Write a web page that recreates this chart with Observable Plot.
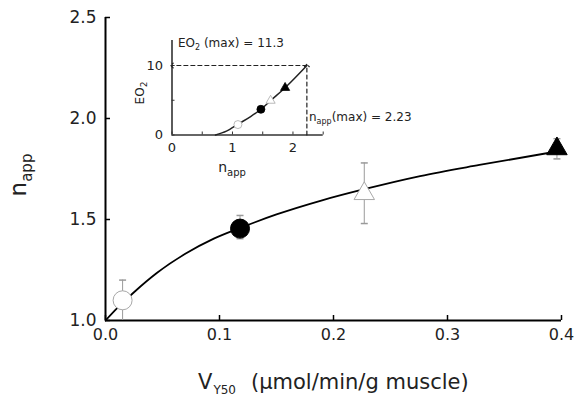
<!DOCTYPE html>
<html>
<head>
<meta charset="utf-8">
<script src="https://cdn.jsdelivr.net/npm/d3@7"></script>
<script src="https://cdn.jsdelivr.net/npm/@observablehq/plot@0.6"></script>
<style>
  body { margin: 0; background: #fff; }
  #wrap { position: relative; width: 574px; height: 402px; font-family: "DejaVu Sans", sans-serif; }
  #wrap svg { position: absolute; left: 0; top: 0; overflow: visible; }
</style>
</head>
<body>
<div id="wrap"></div>
<script>
// ---------- main chart data ----------
const vY50   = [0.015, 0.118, 0.227, 0.396];
const nApp   = [1.10, 1.455, 1.628, 1.850];
const nLo    = [1.00, 1.405, 1.480, 1.800];
const nHi    = [1.20, 1.520, 1.780, 1.900];
const symbols = ["circle", "circle", "triangle", "triangle"];
const filled  = [false, true, false, true];

// fitted curve
const fitV = [0, 0.01, 0.025, 0.045, 0.07, 0.095, 0.118, 0.15, 0.19, 0.227, 0.276, 0.328, 0.387, 0.40];
const fitN = [1.0, 1.06, 1.14, 1.235, 1.33, 1.405, 1.458, 1.525, 1.595, 1.65, 1.715, 1.77, 1.828, 1.84];

const xTicks = [0, 0.1, 0.2, 0.3, 0.4];
const xTickLabels = ["0.0", "0.1", "0.2", "0.3", "0.4"];
const yTicks = [1.0, 1.5, 2.0, 2.5];
const yTickLabels = ["1.0", "1.5", "2.0", "2.5"];

// ---------- inset data ----------
const insetN   = [1.09, 1.47, 1.63, 1.87];
const insetEO2 = [1.5, 3.7, 4.95, 6.8];
const insetFitN   = [0.72, 0.9, 1.1, 1.3, 1.47, 1.63, 1.87, 2.23];
const insetFitEO2 = [0.0, 0.55, 1.6, 2.65, 3.7, 4.95, 6.8, 10.0];
const nAppMax = 2.23;       // arrow position along n_app
const eo2Arrow = 10.0;      // arrow height as drawn
const insetXTicks = [0, 0.5, 1, 1.5, 2, 2.5];
const insetXTickLabels = [0, 1, 2];
const insetYTicks = [0, 5, 10];
const insetYTickLabels = [0, 10];

const pts = vY50.map((v, i) => ({x: v, y: nApp[i], lo: nLo[i], hi: nHi[i], sym: symbols[i], filled: filled[i]}));
const fit = fitV.map((v, i) => ({x: v, y: fitN[i]}));
const ipts = insetN.map((v, i) => ({x: v, y: insetEO2[i], sym: symbols[i], filled: filled[i]}));
const ifit = insetFitN.map((v, i) => ({x: v, y: insetFitEO2[i]}));

const capSymbol = { draw(ctx, size) { const w = Math.sqrt(size / Math.PI); ctx.moveTo(-w, 0); ctx.lineTo(w, 0); } };

const grey = "#9a9a9a";
const markerMarks = (data, rc, rt, sw) => [
  Plot.dot(data.filter(d => d.sym === "circle" && !d.filled), {x: "x", y: "y", r: rc, symbol: "circle", fill: "white", stroke: "#a8a8a8", strokeWidth: sw}),
  Plot.dot(data.filter(d => d.sym === "circle" && d.filled), {x: "x", y: "y", r: rc, symbol: "circle", fill: "black", stroke: "black", strokeWidth: sw}),
  Plot.dot(data.filter(d => d.sym === "triangle" && !d.filled), {x: "x", y: "y", r: rt, symbol: "triangle", fill: "white", stroke: "#a8a8a8", strokeWidth: sw}),
  Plot.dot(data.filter(d => d.sym === "triangle" && d.filled), {x: "x", y: "y", r: rt, symbol: "triangle", fill: "black", stroke: "black", strokeWidth: sw})
];

const main = Plot.plot({
  width: 574, height: 402,
  marginLeft: 105, marginRight: 13, marginTop: 17, marginBottom: 82,
  x: {domain: [0, 0.4], label: null},
  y: {domain: [1, 2.5], label: null},
  style: {fontFamily: "DejaVu Sans, sans-serif", fontSize: "16px", background: "transparent", color: "#222"},
  marks: [
    Plot.axisX(xTicks, {tickSize: 5, dy: -5, fill: "none", stroke: "black", strokeWidth: 1.5, label: null}),
    Plot.axisX(xTicks, {tickSize: 0, tickPadding: 8, tickFormat: d => xTickLabels[xTicks.indexOf(d)], label: null}),
    Plot.axisY(yTicks, {tickSize: 5, dx: 5, fill: "none", stroke: "black", strokeWidth: 1.5, label: null}),
    Plot.axisY(yTicks, {tickSize: 0, tickPadding: 9, fontSize: 17, tickFormat: d => yTickLabels[yTicks.indexOf(d)], label: null}),
    Plot.ruleX([0], {stroke: "black", strokeWidth: 2}),
    Plot.ruleY([1], {stroke: "black", strokeWidth: 2}),
    Plot.ruleX(pts, {x: "x", y1: "lo", y2: "hi", stroke: grey, strokeWidth: 1}),
    Plot.dot(pts, {x: "x", y: "hi", r: 3.5, symbol: capSymbol, stroke: grey, fill: "none"}),
    Plot.dot(pts.filter(d => d.lo > 1), {x: "x", y: "lo", r: 3.5, symbol: capSymbol, stroke: grey, fill: "none"}),
    Plot.line(fit, {x: "x", y: "y", curve: "monotone-x", stroke: "black", strokeWidth: 1.8}),
    ...markerMarks(pts, 9.5, 7.6, 1)
  ]
});

const inset = Plot.plot({
  width: 300, height: 160,
  marginLeft: 51.5, marginRight: 97.3, marginTop: 10, marginBottom: 55.5,
  x: {domain: [0, 2.5], label: null},
  y: {domain: [0, 13.6], label: null},
  style: {fontFamily: "DejaVu Sans, sans-serif", fontSize: "13px", background: "transparent", color: "#222"},
  marks: [
    Plot.axisX(insetXTicks, {tickSize: 3, dy: -3, fill: "none", stroke: "#333", label: null}),
    Plot.axisX(insetXTickLabels, {tickSize: 0, tickPadding: 8, label: null}),
    Plot.axisY(insetYTicks, {tickSize: 3, dx: 3, fill: "none", stroke: "#333", label: null}),
    Plot.axisY(insetYTickLabels, {tickSize: 0, tickPadding: 9, label: null}),
    Plot.ruleX([0], {stroke: "#333", strokeWidth: 1.6}),
    Plot.ruleY([0], {stroke: "#333", strokeWidth: 1.6}),
    Plot.line(ifit, {x: "x", y: "y", curve: "monotone-x", stroke: "#222", strokeWidth: 1.5}),
    Plot.line([{x: nAppMax, y: eo2Arrow}, {x: 0, y: eo2Arrow}], {x: "x", y: "y", stroke: "#222", strokeWidth: 1.2, strokeDasharray: "4,3", markerEnd: "arrow"}),
    Plot.line([{x: nAppMax, y: 0}, {x: nAppMax, y: eo2Arrow}], {x: "x", y: "y", stroke: "#222", strokeWidth: 1.2, strokeDasharray: "4,3", markerEnd: "arrow"}),
    ...markerMarks(ipts, 4, 3.4, 0.8)
  ]
});
inset.style.left = "120px";
inset.style.top = "30px";

const wrap = document.getElementById("wrap");
wrap.appendChild(main);
wrap.appendChild(inset);

// ---------- text labels with subscripts ----------
const svg = d3.select(main);
function label(parent, x, y, parts, {rotate = 0, anchor = "start", size = 12} = {}) {
  const t = parent.append("text")
    .attr("transform", `translate(${x},${y}) rotate(${rotate})`)
    .attr("text-anchor", anchor)
    .attr("font-family", "DejaVu Sans, sans-serif")
    .attr("font-size", size)
    .attr("fill", "#222");
  for (const p of parts) {
    const s = t.append("tspan").text(p.text);
    if (p.size) s.attr("font-size", p.size);
    if (p.dy) s.attr("dy", p.dy);
    if (p.dx) s.attr("dx", p.dx);
  }
  return t;
}
// main axis titles
label(svg, 26, 175, [{text: "n"}, {text: "app", size: 15, dy: 6}], {rotate: -90, anchor: "middle", size: 23});
label(svg, 198, 389, [{text: "V"}, {text: "Y50", size: 12, dy: 5, dx: 1}, {text: "(µmol/min/g muscle)", dy: -5, dx: 15}], {size: 21});

// inset labels
const isvg = d3.select(inset);
label(isvg, 58, 17, [{text: "EO"}, {text: "2", size: 8, dy: 3}, {text: " (max) = 11.3", dy: -3}], {size: 12});
label(isvg, 189, 91, [{text: "n"}, {text: "app", size: 8, dy: 3}, {text: "(max) = 2.23", dy: -3}], {size: 12});
label(isvg, 24, 63, [{text: "EO"}, {text: "2", size: 9, dy: 3}], {rotate: -90, anchor: "middle", size: 12});
label(isvg, 112, 142, [{text: "n"}, {text: "app", size: 10, dy: 4}], {anchor: "middle", size: 14});
</script>
</body>
</html>
